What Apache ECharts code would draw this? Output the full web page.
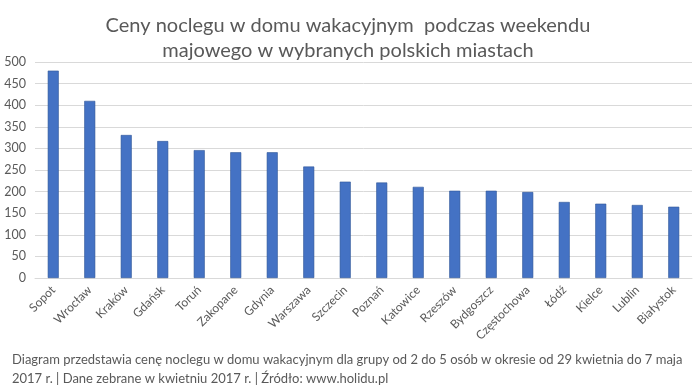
<!DOCTYPE html>
<html><head><meta charset="utf-8">
<script src="https://cdn.jsdelivr.net/npm/echarts@6/dist/echarts.min.js"></script>
<style>html,body{margin:0;padding:0;background:#fff}#c{width:696px;height:386px}</style>
</head><body><div id="c"></div>
<script>
const titleLines = ['Ceny noclegu w domu wakacyjnym  podczas weekendu', 'majowego w wybranych polskich miastach'];
const footerLines = ['Diagram przedstawia cenę noclegu w domu wakacyjnym dla grupy od 2 do 5 osób w okresie od 29 kwietnia do 7 maja', '2017 r. | Dane zebrane w kwietniu 2017 r. | Źródło: www.holidu.pl'];
const cities = ['Sopot','Wrocław','Kraków','Gdańsk','Toruń','Zakopane','Gdynia','Warszawa','Szczecin','Poznań','Katowice','Rzeszów','Bydgoszcz','Częstochowa','Łódź','Kielce','Lublin','Białystok'];
const prices = [480,410,331,317,296,291,291,258,223,221,211,202,202,199,176,172,169,165];
const yMin = 0, yMax = 500, yStep = 50;

const font = 'Lato, "Noto Sans", sans-serif';
const chart = echarts.init(document.getElementById('c'), null, {renderer:'canvas'});
chart.setOption({
  backgroundColor:'#fff',
  animation:false,
  title:[
    {text: titleLines.join('\n'), left:'center', top:8,
     textStyle:{fontFamily:font, fontSize:20, fontWeight:'normal', color:'#595959', lineHeight:25}},
    {text: footerLines.join('\n'), left:7, top:345,
     textStyle:{fontFamily:font, fontSize:13, fontWeight:'normal', color:'#595959', lineHeight:19}}
  ],
  grid:{left:35, right:4, top:62, bottom:108, containLabel:false},
  xAxis:{type:'category', data:cities,
    axisLine:{lineStyle:{color:'#d9d9d9'}}, axisTick:{show:false},
    axisLabel:{rotate:45, interval:0, margin:10, fontFamily:font, fontSize:12, color:'#595959',
      padding:[0,0,0,0], align:'right', verticalAlign:'middle'}},
  yAxis:{type:'value', min:yMin, max:yMax, interval:yStep,
    axisLine:{show:false}, axisTick:{show:false},
    splitLine:{lineStyle:{color:'#d9d9d9'}},
    axisLabel:{margin:9, fontFamily:font, fontSize:12.5, color:'#595959'}},
  series:[{type:'bar', data:prices, barWidth:11,
    itemStyle:{color:'#4472C4', borderColor:'#2f5597', borderWidth:0.6}}]
});
</script></body></html>
